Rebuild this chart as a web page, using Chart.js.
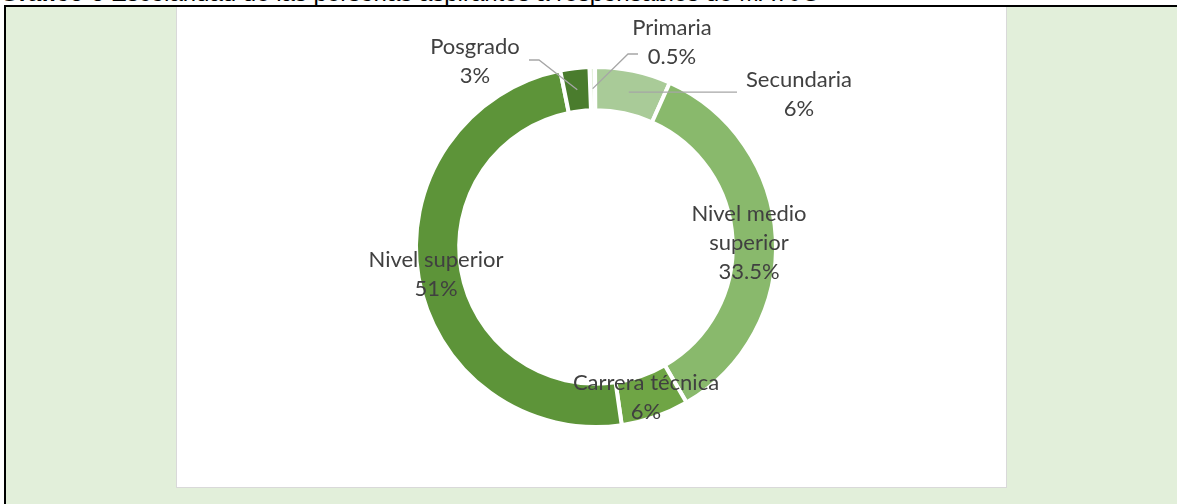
<!DOCTYPE html>
<html>
<head>
<meta charset="utf-8">
<script src="https://cdn.jsdelivr.net/npm/chart.js@4.4.1/dist/chart.umd.min.js"></script>
<style>
  html, body { margin: 0; padding: 0; background: #ffffff; }
  body { width: 1177px; height: 504px; position: relative; overflow: hidden; }
  #title {
    position: absolute; left: 0; top: -19px; white-space: nowrap;
    font-family: "Liberation Sans", Arial, sans-serif; font-size: 24px; line-height: 24px; color: #000;
  }
  #frame {
    position: absolute; left: 4px; top: 5px; width: 1180px; height: 510px;
    border-left: 2px solid #000; border-top: 2px solid #000; background: #e2efda;
  }
  #box {
    position: absolute; left: 176px; top: 7px; width: 829px; height: 480px;
    background: #fff; border: 1px solid #d9d9d9; border-top: none;
  }
  #box canvas { display: block; }
</style>
</head>
<body>
<div id="frame"></div>
<div id="title"><b>Gráfico 6</b> Escolaridad de las personas aspirantes a responsables de MAYJG</div>
<div id="box"><canvas id="dona" width="829" height="480"></canvas></div>
<script>
const categorias = ['Primaria', 'Secundaria', 'Nivel medio superior', 'Carrera técnica', 'Nivel superior', 'Posgrado'];
// tamaño de cada sector (las etiquetas de Excel muestran otros redondeos)
const porcentajes = [0.5, 6.8, 34.9, 6.1, 49.1, 2.6];
const etiquetas = ['0.5%', '6%', '33.5%', '6%', '51%', '3%'];
const colores = ['#e4f0dc', '#a9cb98', '#89b96c', '#6fa545', '#5d9439', '#4a7c2d'];

// lineas de texto de cada etiqueta
const lineasTexto = [['Primaria'], ['Secundaria'], ['Nivel medio', 'superior'], ['Carrera técnica'], ['Nivel superior'], ['Posgrado']];

// centro de cada etiqueta respecto al centro de la dona (como las acomoda Excel)
const posEtiqueta = [[76, -205], [203, -153], [153, -4], [50, 150], [-160, 27], [-121, -186]];
// lineas guia: codo respecto al centro de la dona (null = sin linea)
const guias = [[[42, -193], [32, -193]], [[141, -154]], null, null, null, [[-67, -187], [-57, -187]]];

const etiquetasPlugin = {
  id: 'etiquetasDona',
  afterDatasetsDraw(chart) {
    const ctx = chart.ctx;
    const meta = chart.getDatasetMeta(0);
    const lh = 29;
    ctx.save();
    ctx.font = '22px Lato';
    ctx.textAlign = 'center';
    ctx.textBaseline = 'middle';
    meta.data.forEach((arc, i) => {
      const mid = (arc.startAngle + arc.endAngle) / 2;
      const rMid = (arc.innerRadius + arc.outerRadius) / 2;
      const ax = arc.x + Math.cos(mid) * rMid;
      const ay = arc.y + Math.sin(mid) * rMid;
      if (guias[i]) {
        ctx.strokeStyle = '#a6a6a6';
        ctx.lineWidth = 1.3;
        ctx.beginPath();
        guias[i].forEach((p, k) => {
          const px = arc.x + p[0];
          const py = guias[i].length === 1 ? ay : arc.y + p[1];
          if (k === 0) ctx.moveTo(px, py); else ctx.lineTo(px, py);
        });
        ctx.lineTo(ax, ay);
        ctx.stroke();
      }
      const lineas = lineasTexto[i].concat([etiquetas[i]]);
      const cx = arc.x + posEtiqueta[i][0];
      const cy = arc.y + posEtiqueta[i][1];
      ctx.fillStyle = '#404040';
      const y0 = cy - (lineas.length - 1) * lh / 2;
      lineas.forEach((t, k) => ctx.fillText(t, cx, y0 + k * lh));
    });
    ctx.restore();
  }
};

new Chart(document.getElementById('dona').getContext('2d'), {
  type: 'doughnut',
  data: {
    labels: categorias,
    datasets: [{
      data: porcentajes,
      backgroundColor: colores,
      borderColor: '#ffffff',
      borderWidth: 4
    }]
  },
  options: {
    responsive: false,
    animation: false,
    rotation: -2.1,
    cutout: '76%',
    layout: { padding: { top: 58, bottom: 58, left: 9, right: 0 } },
    plugins: {
      legend: { display: false },
      tooltip: { enabled: false },
      title: { display: false }
    }
  },
  plugins: [etiquetasPlugin]
});
</script>
</body>
</html>
